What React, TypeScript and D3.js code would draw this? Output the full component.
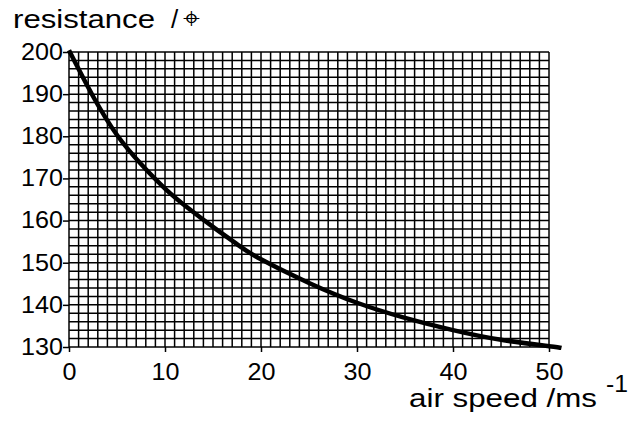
import React, { useEffect, useRef } from 'react';
import * as d3 from 'd3';

// values
const speedValues = [0, 2.5, 5, 7.5, 10, 12.5, 15, 17.5, 20, 25, 30, 35, 40, 45, 50, 51.3];
const resistanceValues = [200.4, 189.5, 180.3, 173.4, 167.6, 162.8, 158.5, 154.4, 150.8, 145.2, 140.5, 136.9, 134.0, 131.7, 130.2, 129.8];

// axis ticks
const speedTicks = [0, 10, 20, 30, 40, 50];
const resistanceTicks = [130, 140, 150, 160, 170, 180, 190, 200];

// graph paper divisions
const speedGridStep = 1;
const resistanceGridStep = 2;

const FONT = '"Liberation Sans", Arial, Helvetica, sans-serif';

const App = () => {
  const ref = useRef<SVGSVGElement>(null);

  useEffect(() => {
    const svg = d3.select(ref.current);
    svg.selectAll('*').remove();

    const left = 69, right = 549, top = 52, bottom = 347;

    const xScale = d3.scaleLinear().domain([0, 50]).range([left, right]);
    const yScale = d3.scaleLinear().domain([130, 200]).range([bottom, top]);

    // grid
    const grid = svg.append('g').attr('stroke', '#000').attr('stroke-width', 1.5);
    grid.selectAll('line.v')
      .data(d3.range(0, 50 + 0.001, speedGridStep))
      .enter().append('line')
      .attr('class', 'v')
      .attr('x1', d => xScale(d)).attr('x2', d => xScale(d))
      .attr('y1', top).attr('y2', bottom);
    grid.selectAll('line.h')
      .data(d3.range(130, 200 + 0.001, resistanceGridStep))
      .enter().append('line')
      .attr('class', 'h')
      .attr('x1', left).attr('x2', right)
      .attr('y1', d => yScale(d)).attr('y2', d => yScale(d));

    // axes
    const yAxis = svg.append('g')
      .attr('transform', `translate(${left},0)`)
      .call(d3.axisLeft(yScale).tickValues(resistanceTicks).tickSize(6).tickSizeOuter(0).tickPadding(0));
    const xAxis = svg.append('g')
      .attr('transform', `translate(0,${bottom})`)
      .call(d3.axisBottom(xScale).tickValues(speedTicks).tickSize(5).tickSizeOuter(0).tickPadding(12));

    [xAxis, yAxis].forEach(ax => {
      ax.select('.domain').remove();
      ax.selectAll('.tick line').attr('stroke', '#000').attr('stroke-width', 1.5);
      ax.selectAll('.tick text')
        .attr('fill', '#000')
        .style('font-family', FONT)
        .style('font-size', '23px');
    });
    yAxis.selectAll('.tick text').attr('textLength', 42).attr('lengthAdjust', 'spacingAndGlyphs');
    xAxis.selectAll('.tick text')
      .attr('textLength', (d: any) => (String(d).length === 1 ? 14 : 28))
      .attr('lengthAdjust', 'spacingAndGlyphs');

    // curve
    const line = d3.line<number>()
      .x((_, i) => xScale(speedValues[i]))
      .y(d => yScale(d))
      .curve(d3.curveNatural);
    svg.append('path')
      .datum(resistanceValues)
      .attr('d', line)
      .attr('fill', 'none')
      .attr('stroke', '#000')
      .attr('stroke-width', 4.5);

    // labels
    const lab = svg.append('g').attr('fill', '#000').style('font-family', FONT);
    lab.append('text').attr('x', 13).attr('y', 28).style('font-size', '26px')
      .attr('textLength', 142).attr('lengthAdjust', 'spacingAndGlyphs').text('resistance');
    lab.append('text').attr('x', 171).attr('y', 28).style('font-size', '26px').text('/');
    lab.append('text').attr('x', 183).attr('y', 28).style('font-size', '30px').text('⌖');

    lab.append('text').attr('x', 409).attr('y', 407).style('font-size', '25px')
      .attr('textLength', 188).attr('lengthAdjust', 'spacingAndGlyphs').text('air speed /ms');
    lab.append('text').attr('x', 606).attr('y', 392).style('font-size', '24px')
      .attr('textLength', 22).attr('lengthAdjust', 'spacingAndGlyphs').text('-1');
  }, []);

  return (
    <svg ref={ref} width={632} height={424}
      style={{ position: 'absolute', left: 0, top: 0, background: '#fff' }} />
  );
};

export default App;
